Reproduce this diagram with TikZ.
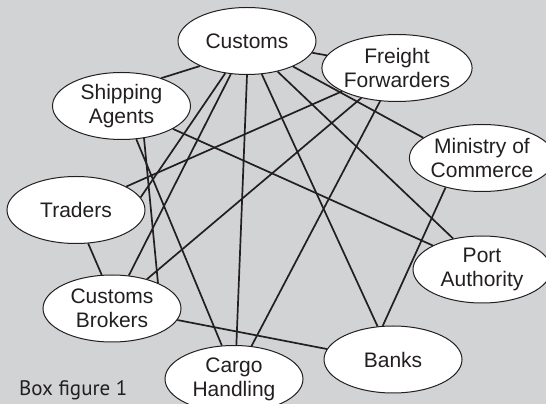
\documentclass[tikz,border=0pt]{standalone}
\usepackage{fontspec}
\usetikzlibrary{shapes.geometric}
\setmainfont{Liberation Sans}
\newfontfamily\boxfont{PT Sans}
\definecolor{bg}{RGB}{209,211,212}
\definecolor{ink}{RGB}{35,31,32}
\begin{document}
\begin{tikzpicture}[x=1pt,y=1pt,
  agent/.style={ellipse, draw=ink, line width=1pt, fill=white, minimum width=138pt, minimum height=67pt, inner sep=0pt, align=center, text=ink, font=\fontsize{21}{24}\selectfont},
  link/.style={draw=ink, line width=1.7pt}]
\fill[bg] (0,0) rectangle (546,404);
\clip (0,0) rectangle (546,404);
\node[agent] (cus) at (247,363) {Customs};
\node[agent] (ff) at (397,336) {Freight\\Forwarders};
\node[agent] (sa) at (121.5,298) {Shipping\\Agents};
\node[agent] (min) at (482,246) {Ministry of\\Commerce};
\node[agent] (tr) at (76,194) {Traders};
\node[agent] (pa) at (482,134.5) {Port\\Authority};
\node[agent] (cb) at (112,95.5) {Customs\\Brokers};
\node[agent] (ba) at (393,44.5) {Banks};
\node[agent] (ca) at (234,25) {Cargo\\Handling};
\node[anchor=west, inner sep=0pt, text=ink, font=\boxfont\fontsize{21}{24}\selectfont] (lbl) at (19,14) {Box figure 1};
\draw[link] (cus.208) -- (sa.35);
\draw[link] (cus) -- (ff);
\draw[link] (cus.-29.5) -- (min.161);
\draw[link] (cus.-45) -- (pa.133);
\draw[link] (cus.-66) -- (ba.115);
\draw[link] (cus.-90) -- (ca.86);
\draw[link] (cus.244) -- (cb.63.6);
\draw[link] (cus.236.7) -- (tr.11.5);
\draw[link] (sa.-24) -- (pa.154);
\draw[link] (sa.-66) -- (ca.110.6);
\draw[link] (sa.-55.4) -- (cb.29.2);
\draw[link] (ff.203) -- (tr.25);
\draw[link] (ff.220) -- (cb.40.7);
\draw[link] (ff.243) -- (ca.62);
\draw[link] (min.219) -- (ba.107.5);
\draw[link] (tr.-70) -- (cb.107);
\draw[link] (cb.-10.7) -- (ba.171.5);
\end{tikzpicture}
\end{document}
